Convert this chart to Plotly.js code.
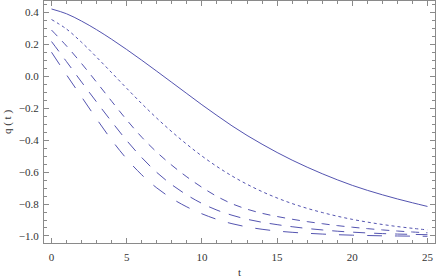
<!DOCTYPE html>
<html>
<head>
<meta charset="utf-8">
<script src="https://cdn.plot.ly/plotly-3.0.1.min.js"></script>
<style>html,body{margin:0;padding:0;background:#fff;}#chart{width:436px;height:279px;}</style>
</head>
<body>
<div id="chart"></div>
<script>
const t = [0,1,2,3,4,5,6,7,8,9,10,11,12,13,14,15,16,17,18,19,20,21,22,23,24,25];
const q1 = [0.422,0.392,0.346,0.292,0.232,0.168,0.101,0.032,-0.038,-0.108,-0.178,-0.245,-0.310,-0.370,-0.425,-0.477,-0.525,-0.569,-0.610,-0.648,-0.683,-0.714,-0.742,-0.768,-0.792,-0.815];
const q2 = [0.356,0.296,0.213,0.120,0.023,-0.075,-0.171,-0.262,-0.347,-0.426,-0.499,-0.565,-0.624,-0.676,-0.722,-0.762,-0.797,-0.827,-0.853,-0.876,-0.896,-0.913,-0.928,-0.941,-0.952,-0.962];
const q3 = [0.290,0.190,0.080,-0.037,-0.156,-0.273,-0.381,-0.475,-0.557,-0.630,-0.695,-0.752,-0.798,-0.832,-0.858,-0.878,-0.895,-0.910,-0.923,-0.935,-0.945,-0.954,-0.962,-0.969,-0.975,-0.980];
const q4 = [0.218,0.092,-0.036,-0.161,-0.284,-0.402,-0.509,-0.602,-0.679,-0.743,-0.796,-0.838,-0.870,-0.895,-0.914,-0.929,-0.942,-0.953,-0.962,-0.970,-0.976,-0.981,-0.985,-0.988,-0.990,-0.992];
const q5 = [0.151,0.009,-0.129,-0.267,-0.399,-0.517,-0.617,-0.699,-0.765,-0.818,-0.861,-0.896,-0.923,-0.943,-0.958,-0.969,-0.977,-0.983,-0.988,-0.992,-0.995,-0.997,-0.999,-1.000,-1.001,-1.002];
const series = [q1,q2,q3,q4,q5];
const dashes = ['solid','3px,3px','8px,7px','12px,9px','15px,13px'];
const lineColor = 'rgb(84,84,176)';

const traces = series.map((q,i)=>({
  x: t, y: q, type:'scatter', mode:'lines',
  line:{color:lineColor, width:1, dash:dashes[i], shape:'spline', smoothing:1},
  hoverinfo:'skip', showlegend:false
}));

const frameColor = '#8a8a8a';
const tickFont = {family:'"Liberation Serif", serif', size:11, color:'#333'};
const layout = {
  width:436, height:279,
  margin:{l:44, r:1, t:1, b:36},
  paper_bgcolor:'#fff', plot_bgcolor:'#fff',
  showlegend:false,
  xaxis:{
    range:[-0.5,25.5], showgrid:false, zeroline:false,
    showline:true, linecolor:frameColor, linewidth:1, mirror:'ticks',
    ticks:'inside', ticklen:5, tickcolor:frameColor, tickwidth:1,
    tick0:0, dtick:5, tickfont:tickFont, ticklabelstandoff:4,
    minor:{dtick:1, ticks:'inside', ticklen:3, tickcolor:frameColor, showgrid:false},
    title:{text:'t', font:{family:'"Liberation Serif", serif', size:11, color:'#333'}, standoff:6}
  },
  yaxis:{
    range:[-1.044,0.472], showgrid:false, zeroline:false,
    showline:true, linecolor:frameColor, linewidth:1, mirror:'ticks',
    ticks:'inside', ticklen:5, tickcolor:frameColor, tickwidth:1,
    tick0:0, dtick:0.2, tickformat:'.1f', tickfont:tickFont, ticklabelstandoff:2,
    minor:{dtick:0.05, ticks:'inside', ticklen:3, tickcolor:frameColor, showgrid:false},
    title:{text:'q ( t )', font:{family:'"Liberation Serif", serif', size:11, color:'#333'}, standoff:4}
  }
};
Plotly.newPlot('chart', traces, layout, {staticPlot:true, displayModeBar:false});
</script>
</body>
</html>
